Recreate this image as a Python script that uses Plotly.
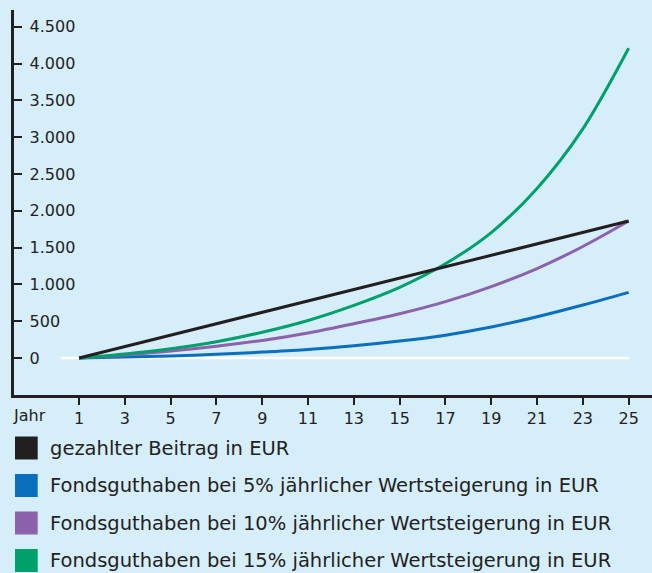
import plotly.graph_objects as go

# ---- data ----
years = [1, 3, 5, 7, 9, 11, 13, 15, 17, 19, 21, 23, 25]
paid = [0, 155, 310, 465, 620, 775, 930, 1085, 1240, 1395, 1550, 1705, 1860]
fund_5 = [0, 12, 28, 50, 80, 115, 165, 230, 310, 420, 560, 720, 892]
fund_10 = [0, 40, 95, 160, 238, 340, 465, 600, 765, 970, 1215, 1515, 1861]
fund_15 = [0, 55, 125, 220, 350, 510, 715, 960, 1280, 1704, 2304, 3113, 4208]

series_names = [
    "gezahlter Beitrag in EUR",
    "Fondsguthaben bei 5% jährlicher Wertsteigerung in EUR",
    "Fondsguthaben bei 10% jährlicher Wertsteigerung in EUR",
    "Fondsguthaben bei 15% jährlicher Wertsteigerung in EUR",
]
series_colors = ["#231f20", "#0a6fbf", "#8b62ab", "#00a06a"]

y_tick_vals = [0, 500, 1000, 1500, 2000, 2500, 3000, 3500, 4000, 4500]
y_tick_text = ["0", "500", "1.000", "1.500", "2.000", "2.500", "3.000", "3.500", "4.000", "4.500"]
x_tick_vals = years
x_axis_title = "Jahr"

BG = "#d6edfa"
INK = "#231f20"
FONT = "DejaVu Sans"

fig = go.Figure()

# white zero line
fig.add_shape(type="line", xref="x", yref="y", x0=0.2, x1=25, y0=0, y1=0,
              line=dict(color="white", width=2.5), layer="below")

series_values = [paid, fund_5, fund_10, fund_15]
draw_order = [1, 2, 3, 0]
for i in draw_order:
    fig.add_trace(go.Scatter(
        x=years, y=series_values[i], mode="lines", name=series_names[i],
        line=dict(color=series_colors[i], width=3,
                  shape="linear" if i == 0 else "spline", smoothing=0.9),
        showlegend=False, hoverinfo="skip"))

W, H = 652, 573
L, R, T, B = 14, 0, 10, 178
pw, ph = W - L - R, H - T - B

def px_x(p):
    return (p - L) / pw

def px_y(p):
    return (H - B - p) / ph

# manual legend
row_centers = [448, 485.5, 523, 560.5]
for k, name in enumerate(series_names):
    cy = row_centers[k]
    fig.add_shape(type="rect", xref="paper", yref="paper",
                  x0=px_x(15), x1=px_x(37.7), y0=px_y(cy - 11.5), y1=px_y(cy + 11.5),
                  fillcolor=series_colors[k], line=dict(width=0))
    fig.add_annotation(xref="paper", yref="paper", x=px_x(49), y=px_y(cy),
                       text=name, showarrow=False, xanchor="left", yanchor="middle",
                       borderpad=0,
                       font=dict(family=FONT, size=19.5, color=INK))

fig.add_annotation(xref="paper", yref="paper", x=px_x(11), y=px_y(415),
                   text=x_axis_title, showarrow=False, xanchor="left", yanchor="middle",
                   font=dict(family=FONT, size=16, color=INK))

fig.update_layout(
    width=W, height=H,
    margin=dict(l=L, r=R, t=T, b=B, pad=0),
    paper_bgcolor=BG, plot_bgcolor=BG,
    font=dict(family=FONT, size=16, color=INK),
    xaxis=dict(range=[-1.84, 26.02], tickvals=x_tick_vals, ticks="outside",
               ticklen=7, tickwidth=2, tickcolor=INK, showline=True, linecolor=INK,
               linewidth=2.5, showgrid=False, zeroline=False,
               tickfont=dict(family=FONT, size=16, color=INK)),
    yaxis=dict(range=[-503, 4728], tickvals=y_tick_vals, ticktext=y_tick_text,
               ticks="inside", ticklen=8, tickwidth=2, tickcolor=INK,
               ticklabelposition="inside", ticklabelstandoff=8,
               showline=True, linecolor=INK,
               linewidth=2.5, showgrid=False, zeroline=False,
               tickfont=dict(family=FONT, size=16, color=INK)),
)

fig.write_html("out.html", config={"displayModeBar": False},
               post_script="document.body.style.margin='0';document.body.style.overflow='hidden';")
